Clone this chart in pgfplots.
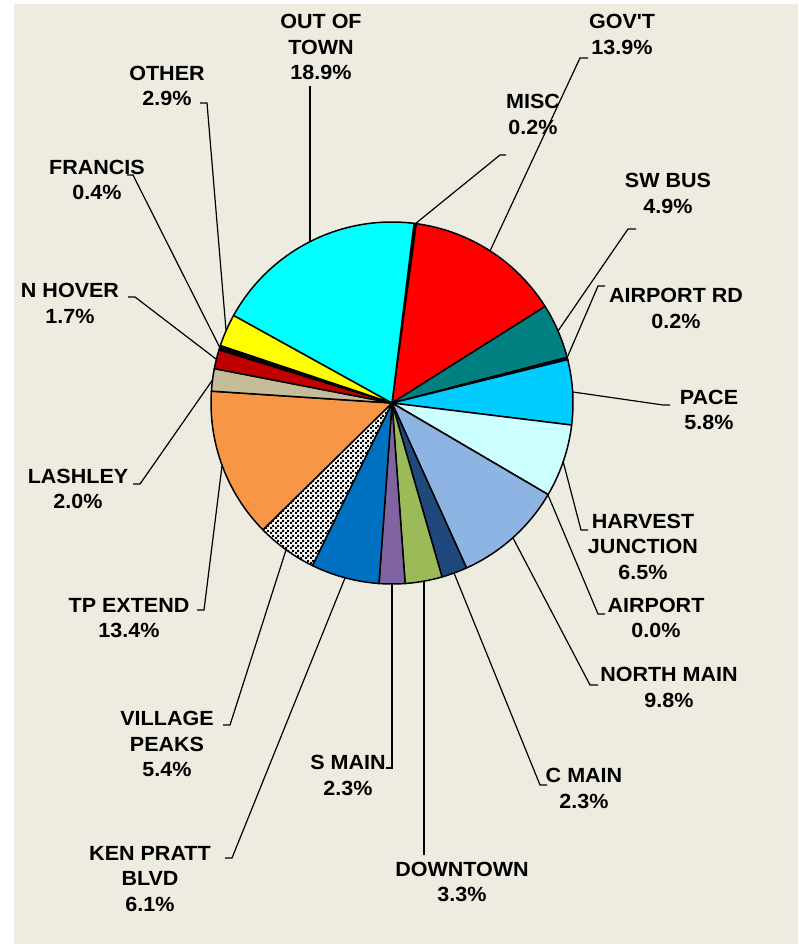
\documentclass[border=0pt]{standalone}
\usepackage{pgfplots}
\pgfplotsset{compat=1.18}
\usepackage{pgfplotstable}
\usetikzlibrary{patterns}
\usepackage{fontspec}
\setmainfont{Liberation Sans}[FakeStretch=1.05]
\definecolor{bgc}{HTML}{EEECE1}
\definecolor{cOOT}{HTML}{00FFFF}
\definecolor{cGOV}{HTML}{FF0000}
\definecolor{cSWB}{HTML}{008080}
\definecolor{cARD}{HTML}{000080}
\definecolor{cPACE}{HTML}{00CCFF}
\definecolor{cHJ}{HTML}{CCFFFF}
\definecolor{cNM}{HTML}{8DB4E2}
\definecolor{cCM}{HTML}{1F497D}
\definecolor{cDT}{HTML}{9BBB59}
\definecolor{cSM}{HTML}{8064A2}
\definecolor{cKP}{HTML}{0070C0}
\definecolor{cTP}{HTML}{F79646}
\definecolor{cLA}{HTML}{C4BD97}
\definecolor{cNH}{HTML}{C00000}
\definecolor{cOT}{HTML}{FFFF00}
\pgfdeclarepatternformonly{finecheck}{\pgfpointorigin}{\pgfqpoint{5pt}{5pt}}{\pgfqpoint{5pt}{5pt}}{%
  \pgfpathrectangle{\pgfpointorigin}{\pgfqpoint{2.5pt}{2.5pt}}%
  \pgfpathrectangle{\pgfqpoint{2.5pt}{2.5pt}}{\pgfqpoint{2.5pt}{2.5pt}}%
  \pgfusepath{fill}}
\tikzset{
  wedge/.style={draw=black, line width=1.5pt, line join=round},
  sMISC/.style={wedge, fill=black},
  sGOV/.style={wedge, fill=cGOV},
  sSWB/.style={wedge, fill=cSWB},
  sARD/.style={wedge, fill=cARD},
  sPACE/.style={wedge, fill=cPACE},
  sHJ/.style={wedge, fill=cHJ},
  sAIR/.style={wedge, fill=white},
  sNM/.style={wedge, fill=cNM},
  sCM/.style={wedge, fill=cCM},
  sDT/.style={wedge, fill=cDT},
  sSM/.style={wedge, fill=cSM},
  sKP/.style={wedge, fill=cKP},
  sVP/.style={wedge, preaction={fill=white}, pattern=finecheck},
  sTP/.style={wedge, fill=cTP},
  sLA/.style={wedge, fill=cLA},
  sNH/.style={wedge, fill=cNH},
  sFR/.style={wedge, fill=black},
  sOT/.style={wedge, fill=cOT},
  sOOT/.style={wedge, fill=cOOT},
  lab/.style={align=center, inner sep=0pt, font=\fontsize{20.5}{25.5}\selectfont\bfseries},
  lead/.style={black, line width=1.2pt, no marks}
}
\pgfplotstableread{
value sty
0.2 sMISC
13.9 sGOV
4.9 sSWB
0.2 sARD
5.8 sPACE
6.5 sHJ
0.0 sAIR
9.8 sNM
2.3 sCM
3.3 sDT
2.3 sSM
6.1 sKP
5.4 sVP
13.4 sTP
2.0 sLA
1.7 sNH
0.4 sFR
2.9 sOT
18.9 sOOT
}\piedata
\begin{document}
\gdef\wedges{}\gdef\cum{0}%
\pgfplotstablegetrowsof{\piedata}%
\pgfmathtruncatemacro\N{\pgfplotsretval-1}%
\foreach \i in {0,...,\N}{%
  \pgfplotstablegetelem{\i}{value}\of\piedata\let\myv\pgfplotsretval
  \pgfplotstablegetelem{\i}{sty}\of\piedata\let\mys\pgfplotsretval
  \pgfmathsetmacro\sa{83-3.6*\cum}%
  \pgfmathsetmacro\sb{83-3.6*(\cum+\myv)}%
  \pgfmathsetmacro\newcum{\cum+\myv}%
  \global\let\cum\newcum
  \xdef\wedges{\unexpanded\expandafter{\wedges}\noexpand\filldraw[\mys] (axis cs:392,403) -- ++(\sa:181pt) arc[start angle=\sa, end angle=\sb, radius=181pt] -- cycle;}%
}%
\begin{tikzpicture}
\begin{axis}[x=1pt, y=1pt, xmin=0, xmax=798, ymin=0, ymax=944, y dir=reverse,
  hide axis, clip=false]
\fill[white] (axis cs:0,0) rectangle (axis cs:798,944);
\fill[bgc] (axis cs:14,4) rectangle (axis cs:798,944);
\wedges
% leader lines
\addplot[lead] coordinates {(310,242) (310,86)};
\addplot[lead] coordinates {(490,251) (580,58) (588,58)};
\addplot[lead] coordinates {(415,224) (500,155) (506,155)};
\addplot[lead] coordinates {(558,331) (628,229) (636,229)};
\addplot[lead] coordinates {(567,358) (598,286) (605,286)};
\addplot[lead] coordinates {(573,392) (663,405) (670,405)};
\addplot[lead] coordinates {(563,461) (581,530) (588,530)};
\addplot[lead] coordinates {(548,495) (598,614) (605,614)};
\addplot[lead] coordinates {(513,538) (590,685) (598,685)};
\addplot[lead] coordinates {(454,573) (540,785) (547,785)};
\addplot[lead] coordinates {(424,581) (424,855)};
\addplot[lead] coordinates {(392,584) (392,768) (386,768)};
\addplot[lead] coordinates {(345,578) (232,858) (225,858)};
\addplot[lead] coordinates {(286,550) (230,725) (223,725)};
\addplot[lead] coordinates {(222,466) (204,610) (197,610)};
\addplot[lead] coordinates {(212.5,380) (140,484) (133,484)};
\addplot[lead] coordinates {(216,359) (135,297) (128,297)};
\addplot[lead] coordinates {(220,348) (133,175) (127,175)};
\addplot[lead] coordinates {(226,330) (207,103) (200,103)};
% labels
\node[lab] at (axis cs:321,47) {OUT OF\\TOWN\\18.9\%};
\node[lab] at (axis cs:622,34.5) {GOV\textquotesingle T\\13.9\%};
\node[lab] at (axis cs:533,114.5) {MISC\\0.2\%};
\node[lab] at (axis cs:668,193.5) {SW BUS\\4.9\%};
\node[lab] at (axis cs:676,308.5) {AIRPORT RD\\0.2\%};
\node[lab] at (axis cs:709,410) {PACE\\5.8\%};
\node[lab] at (axis cs:643,546.5) {HARVEST\\JUNCTION\\6.5\%};
\node[lab] at (axis cs:656,618) {AIRPORT\\0.0\%};
\node[lab] at (axis cs:669,687.5) {NORTH MAIN\\9.8\%};
\node[lab] at (axis cs:584,788.5) {C MAIN\\2.3\%};
\node[lab] at (axis cs:462,882) {DOWNTOWN\\3.3\%};
\node[lab] at (axis cs:348,775.5) {S MAIN\\2.3\%};
\node[lab] at (axis cs:150,879) {KEN PRATT\\BLVD\\6.1\%};
\node[lab] at (axis cs:167,744) {VILLAGE\\PEAKS\\5.4\%};
\node[lab] at (axis cs:129,618) {TP EXTEND\\13.4\%};
\node[lab] at (axis cs:78,489) {LASHLEY\\2.0\%};
\node[lab] at (axis cs:70,303.5) {N HOVER\\1.7\%};
\node[lab] at (axis cs:97,180) {FRANCIS\\0.4\%};
\node[lab] at (axis cs:167,86) {OTHER\\2.9\%};
\end{axis}
\end{tikzpicture}
\end{document}
